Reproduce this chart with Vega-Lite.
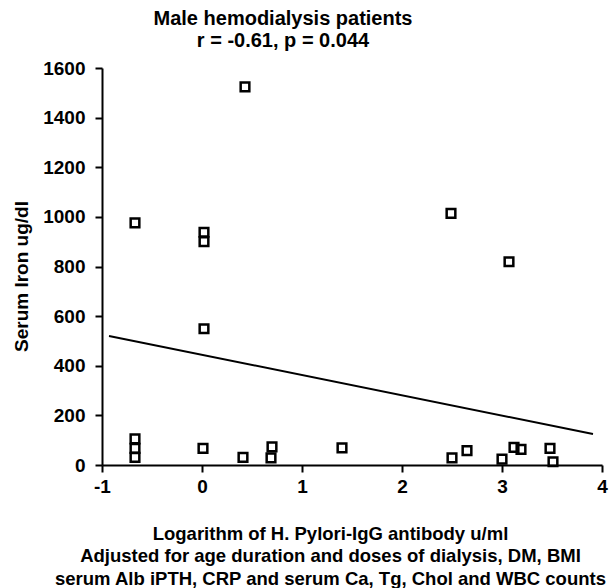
{
  "$schema": "https://vega.github.io/schema/vega-lite/v6.json",
  "autosize": {"type": "none"},
  "padding": {"left": 102, "top": 68, "right": 7, "bottom": 123},
  "width": 500,
  "height": 397,
  "background": "white",
  "config": {
    "view": {"stroke": null},
    "font": "Liberation Sans",
    "axis": {"grid": false}
  },
  "title": {
    "text": ["Male hemodialysis patients", "r = -0.61, p = 0.044"],
    "font": "Liberation Sans",
    "fontSize": 20,
    "fontWeight": "bold",
    "color": "black",
    "anchor": "middle",
    "dx": -69,
    "lineHeight": 22,
    "offset": 8
  },
  "datasets": {
    "points": [
      {"logHp": -0.67, "iron": 976},
      {"logHp": 0.02, "iron": 938},
      {"logHp": 0.02, "iron": 900},
      {"logHp": 0.02, "iron": 549},
      {"logHp": 0.43, "iron": 1524},
      {"logHp": 2.49, "iron": 1014},
      {"logHp": 3.07, "iron": 819},
      {"logHp": -0.67, "iron": 105},
      {"logHp": -0.67, "iron": 67},
      {"logHp": -0.67, "iron": 31},
      {"logHp": 0.01, "iron": 67},
      {"logHp": 0.41, "iron": 31},
      {"logHp": 0.70, "iron": 73},
      {"logHp": 0.69, "iron": 29},
      {"logHp": 1.40, "iron": 69},
      {"logHp": 2.50, "iron": 29},
      {"logHp": 2.65, "iron": 58},
      {"logHp": 3.00, "iron": 24},
      {"logHp": 3.12, "iron": 71},
      {"logHp": 3.19, "iron": 63},
      {"logHp": 3.48, "iron": 67},
      {"logHp": 3.51, "iron": 13}
    ],
    "fit": [
      {"logHp": -0.93, "iron": 520},
      {"logHp": 3.91, "iron": 125}
    ]
  },
  "layer": [
    {
      "data": {"name": "fit"},
      "mark": {"type": "line", "color": "black", "strokeWidth": 2},
      "encoding": {
        "x": {"field": "logHp", "type": "quantitative"},
        "y": {"field": "iron", "type": "quantitative"}
      }
    },
    {
      "data": {"name": "points"},
      "mark": {"type": "point", "shape": "square", "filled": false, "stroke": "black", "strokeWidth": 2.5, "size": 75, "opacity": 1},
      "encoding": {
        "x": {
          "field": "logHp",
          "type": "quantitative",
          "scale": {"domain": [-1, 4], "nice": false, "zero": false},
          "axis": {
            "values": [-1, 0, 1, 2, 3, 4],
            "labelExpr": "'' + datum.value",
            "title": ["Logarithm of H. Pylori-IgG antibody u/ml", "Adjusted for age duration and doses of dialysis, DM, BMI", "serum Alb iPTH, CRP and serum Ca, Tg, Chol and WBC counts"],
            "titleFont": "Liberation Sans",
            "titleFontSize": 18.5,
            "titleFontWeight": "bold",
            "titleColor": "black",
            "titleLineHeight": 22.5,
            "titleX": 228,
            "titleY": 59,
            "titleAlign": "center",
            "titleBaseline": "top",
            "domainColor": "black",
            "domainWidth": 2,
            "tickColor": "black",
            "tickWidth": 2,
            "tickSize": 7,
            "labelFont": "Liberation Sans",
            "labelFontSize": 19,
            "labelFontWeight": "bold",
            "labelColor": "black",
            "labelPadding": 5,
            "labelFlush": false
          }
        },
        "y": {
          "field": "iron",
          "type": "quantitative",
          "scale": {"domain": [0, 1600], "nice": false},
          "axis": {
            "values": [0, 200, 400, 600, 800, 1000, 1200, 1400, 1600],
            "labelExpr": "'' + datum.value",
            "title": "Serum Iron ug/dl",
            "titleFont": "Liberation Sans",
            "titleFontSize": 19,
            "titleFontWeight": "bold",
            "titleColor": "black",
            "titleX": -75,
            "titleY": 208,
            "titleAngle": -90,
            "titleAlign": "center",
            "titleBaseline": "alphabetic",
            "domainColor": "black",
            "domainWidth": 2,
            "tickColor": "black",
            "tickWidth": 2,
            "tickSize": 7,
            "labelFont": "Liberation Sans",
            "labelFontSize": 19,
            "labelFontWeight": "bold",
            "labelColor": "black",
            "labelPadding": 10,
            "labelFlush": false
          }
        }
      }
    }
  ]
}
